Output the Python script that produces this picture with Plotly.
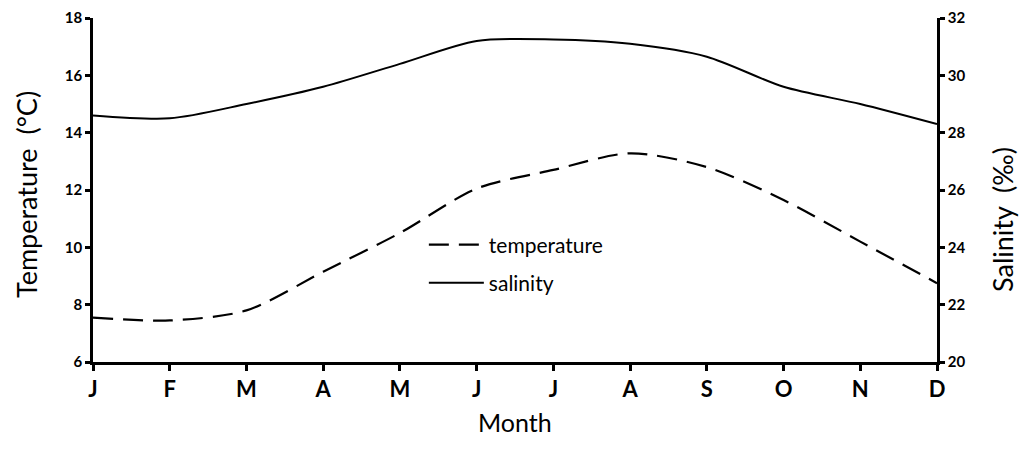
import plotly.graph_objects as go

months = ["J", "F", "M", "A", "M", "J", "J", "A", "S", "O", "N", "D"]
month_idx = list(range(12))
temperature = [7.55, 7.45, 7.8, 9.15, 10.5, 12.05, 12.7, 13.28, 12.8, 11.65, 10.2, 8.75]
salinity = [28.6, 28.5, 29.0, 29.6, 30.4, 31.2, 31.25, 31.1, 30.65, 29.6, 29.0, 28.3]

FONT = "Lato"
fig = go.Figure()
fig.add_trace(go.Scatter(
    x=month_idx, y=temperature, name="temperature", mode="lines", legendgroup="t",
    line=dict(color="black", width=2.2, dash="20px,10px", shape="spline", smoothing=0.8),
))
fig.add_trace(go.Scatter(
    x=month_idx, y=salinity, name="salinity", mode="lines", yaxis="y2", legendgroup="s",
    line=dict(color="black", width=2, shape="spline", smoothing=0.8),
))

axis_common = dict(
    showgrid=False, zeroline=False, showline=True, linecolor="black", linewidth=2.5,
    ticks="outside", tickwidth=2.5, tickcolor="black", automargin=False,
)

fig.update_layout(
    width=1021, height=449,
    margin=dict(l=93, r=84, t=18, b=87, autoexpand=False),
    paper_bgcolor="white", plot_bgcolor="white",
    font=dict(family=FONT, color="black"),
    showlegend=True,
    legend=dict(x=0.392, y=0.40, xanchor="left", yanchor="top",
                bgcolor="rgba(0,0,0,0)", font=dict(size=21, family=FONT),
                itemwidth=55, tracegroupgap=8),
    xaxis=dict(
        range=[0, 11], tickmode="array", tickvals=month_idx, ticktext=months,
        ticklen=6, tickfont=dict(size=22, family=FONT, weight="bold"),
        **axis_common,
    ),
    yaxis=dict(
        range=[6, 18], tickmode="array", tickvals=[6, 8, 10, 12, 14, 16, 18],
        ticklen=5, tickfont=dict(size=15, family=FONT, weight="bold"),
        **axis_common,
    ),
    yaxis2=dict(
        range=[20, 32], tickmode="array", tickvals=[20, 22, 24, 26, 28, 30, 32],
        overlaying="y", side="right",
        ticklen=5, tickfont=dict(size=15, family=FONT, weight="bold"),
        **axis_common,
    ),
    annotations=[
        dict(text="Month", xref="paper", yref="paper", x=0.5, y=0, yshift=-60,
             showarrow=False, xanchor="center", yanchor="middle",
             font=dict(size=25, family=FONT)),
        dict(text="Temperature  (°C)", xref="paper", yref="paper", x=0, xshift=-67,
             y=0.5, yshift=-5, textangle=-90, showarrow=False, xanchor="center", yanchor="middle",
             font=dict(size=27, family=FONT)),
        dict(text="Salinity  (‰)", xref="paper", yref="paper", x=1, xshift=65,
             y=0.5, yshift=-30, textangle=-90, showarrow=False, xanchor="center", yanchor="middle",
             font=dict(size=27, family=FONT)),
    ],
)

fig.write_html("out.html", post_script="document.body.style.margin='0';",
               config={"displayModeBar": False})
